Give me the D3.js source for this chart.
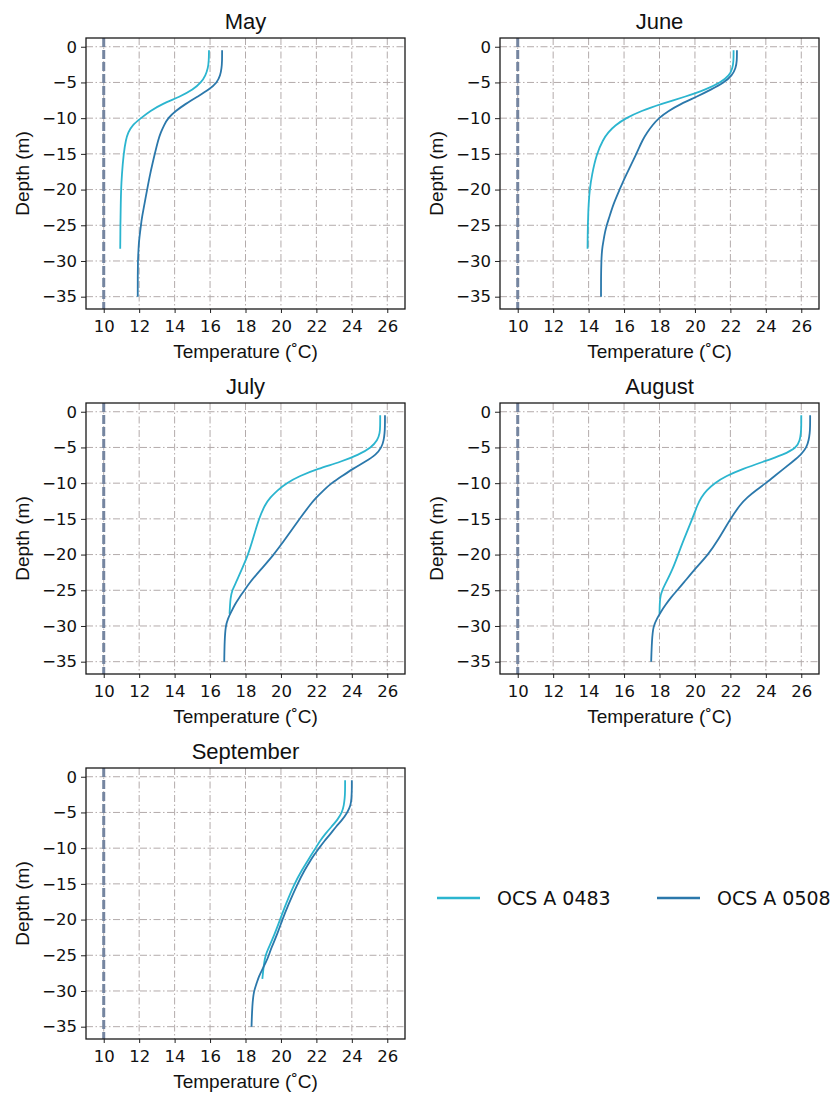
<!DOCTYPE html>
<html>
<head>
<meta charset="utf-8">
<script src="https://cdn.jsdelivr.net/npm/d3@7"></script>
<style>
  html, body { margin: 0; padding: 0; background: #fff; }
  svg { display: block; }
</style>
</head>
<body>
<div id="chart"></div>
<script>
// ---------------- DATA ----------------
const months = ["May", "June", "July", "August", "September"];
const seriesNames = ["OCS A 0483", "OCS A 0508"];
const xTicks = [10, 12, 14, 16, 18, 20, 22, 24, 26];
const yTicks = [0, -5, -10, -15, -20, -25, -30, -35];
const referenceTemp = 10;

// depths (m) at which each station's profile is sampled
const depthsA = [-0.5, -2, -3, -4, -5, -6, -7, -8, -9, -10, -11, -12, -13, -15, -18, -20, -22, -24, -25, -26, -28.3];
const depthsB = [-0.5, -2, -3, -4, -5, -6, -7, -8, -9, -10, -11, -12, -13, -15, -18, -20, -22, -24, -25, -26, -27, -28, -29, -30, -32, -35];

// OCS A 0483 temperatures (°C)
const mayA  = [15.94, 15.93, 15.88, 15.75, 15.5, 15.05, 14.3, 13.3, 12.62, 12.1, 11.6, 11.38, 11.25, 11.12, 11.02, 10.98, 10.96, 10.95, 10.94, 10.94, 10.93];
const junA  = [22.18, 22.18, 22.12, 21.95, 21.45, 20.6, 19.45, 18.1, 16.95, 16.1, 15.5, 15.1, 14.82, 14.45, 14.18, 14.06, 14.0, 13.97, 13.96, 13.95, 13.94];
const julA  = [25.6, 25.6, 25.58, 25.45, 25.1, 24.4, 23.4, 22.05, 21.05, 20.3, 19.8, 19.4, 19.1, 18.75, 18.4, 18.15, 17.8, 17.45, 17.25, 17.15, 17.1];
const augA  = [26.0, 26.0, 25.98, 25.92, 25.75, 25.0, 23.85, 22.7, 21.75, 21.1, 20.65, 20.35, 20.15, 19.85, 19.35, 19.05, 18.75, 18.35, 18.15, 18.02, 18.0];
const sepA  = [23.62, 23.62, 23.6, 23.55, 23.45, 23.2, 22.85, 22.5, 22.2, 21.95, 21.7, 21.45, 21.2, 20.75, 20.25, 19.95, 19.65, 19.3, 19.13, 19.05, 18.95];

// OCS A 0508 temperatures (°C)
const mayB  = [16.68, 16.68, 16.65, 16.58, 16.4, 15.95, 15.28, 14.62, 14.05, 13.62, 13.4, 13.22, 13.08, 12.88, 12.6, 12.45, 12.3, 12.15, 12.1, 12.05, 12.0, 11.97, 11.95, 11.93, 11.92, 11.92];
const junB  = [22.37, 22.37, 22.3, 22.1, 21.65, 20.9, 20.1, 19.2, 18.5, 17.95, 17.6, 17.3, 17.05, 16.7, 16.1, 15.75, 15.4, 15.15, 15.02, 14.92, 14.85, 14.78, 14.74, 14.72, 14.7, 14.7];
const julB  = [25.87, 25.87, 25.85, 25.8, 25.68, 25.38, 24.75, 24.05, 23.45, 22.85, 22.4, 22.0, 21.65, 21.05, 20.2, 19.6, 18.9, 18.2, 17.95, 17.65, 17.4, 17.2, 17.0, 16.88, 16.82, 16.8];
const augB  = [26.5, 26.5, 26.48, 26.42, 26.3, 26.0, 25.5, 25.0, 24.5, 24.0, 23.45, 22.95, 22.55, 22.0, 21.3, 20.75, 20.0, 19.35, 19.0, 18.65, 18.35, 18.08, 17.85, 17.65, 17.57, 17.53];
const sepB  = [24.0, 24.0, 23.98, 23.94, 23.75, 23.47, 23.1, 22.8, 22.45, 22.15, 21.85, 21.6, 21.35, 20.93, 20.4, 20.08, 19.8, 19.45, 19.32, 19.15, 18.94, 18.75, 18.62, 18.47, 18.38, 18.34];

const tempsA = [mayA, junA, julA, augA, sepA];
const tempsB = [mayB, junB, julB, augB, sepB];

// ---------------- LAYOUT / STYLE ----------------
const W = 839, H = 1095;
const colLeft = [86, 500];
const rowTop = [38, 403, 768];
const pw = 319, ph = 271;
const colors = ["#2bb5cf", "#2b78ab"];

const svg = d3.select("#chart").append("svg")
  .attr("width", W).attr("height", H)
  .attr("viewBox", `0 0 ${W} ${H}`);
svg.append("rect").attr("width", W).attr("height", H).attr("fill", "#fff");

const x = d3.scaleLinear().domain([9, 27]).range([0, pw]);
const y = d3.scaleLinear().domain([-36.725, 1.225]).range([ph, 0]);

const tickFont = "'DejaVu Sans', sans-serif";
const labelFont = "'Liberation Sans', Arial, Helvetica, sans-serif";

months.forEach((m, i) => {
  const col = i % 2, row = Math.floor(i / 2);
  const g = svg.append("g").attr("transform", `translate(${colLeft[col]},${rowTop[row]})`);

  // grid
  const grid = g.append("g");
  grid.selectAll("line.vx").data(xTicks).join("line")
    .attr("x1", d => x(d)).attr("x2", d => x(d))
    .attr("y1", 0).attr("y2", ph)
    .attr("stroke", "#b3abab").attr("stroke-width", 1)
    .attr("stroke-dasharray", "7,2.5,1.5,2.5");
  grid.selectAll("line.hy").data(yTicks).join("line")
    .attr("x1", 0).attr("x2", pw)
    .attr("y1", d => y(d)).attr("y2", d => y(d))
    .attr("stroke", "#b3abab").attr("stroke-width", 1)
    .attr("stroke-dasharray", "7,2.5,1.5,2.5");

  // reference dashed line
  g.append("line")
    .attr("x1", x(referenceTemp)).attr("x2", x(referenceTemp))
    .attr("y1", 0).attr("y2", ph)
    .attr("stroke", "#7585a0").attr("stroke-width", 3)
    .attr("stroke-dasharray", "9,3");

  // profiles
  const line = d3.line().x(d => x(d[0])).y(d => y(d[1])).curve(d3.curveBasis);
  const dataA = tempsA[i].map((t, k) => [t, depthsA[k]]);
  const dataB = tempsB[i].map((t, k) => [t, depthsB[k]]);
  [dataA, dataB].forEach((dd, s) => {
    g.append("path").datum(dd)
      .attr("d", line)
      .attr("fill", "none")
      .attr("stroke", colors[s])
      .attr("stroke-width", 1.8);
  });

  // axes
  const xAxis = g.append("g").attr("transform", `translate(0,${ph})`)
    .call(d3.axisBottom(x).tickValues(xTicks).tickSize(4).tickPadding(7).tickFormat(d3.format("d")));
  const yAxis = g.append("g")
    .call(d3.axisLeft(y).tickValues(yTicks).tickSize(5).tickPadding(4).tickFormat(d3.format("d")));
  [xAxis, yAxis].forEach(a => {
    a.select(".domain").remove();
    a.selectAll(".tick line").attr("stroke", "#222").attr("stroke-width", 1);
    a.selectAll(".tick text").attr("font-family", tickFont).attr("font-size", 16.5).attr("fill", "#111");
  });

  // frame
  g.append("rect").attr("x", 0).attr("y", 0).attr("width", pw).attr("height", ph)
    .attr("fill", "none").attr("stroke", "#1a1a1a").attr("stroke-width", 1.3);

  // title
  g.append("text").attr("x", pw / 2).attr("y", -9)
    .attr("text-anchor", "middle").attr("font-family", labelFont)
    .attr("font-size", 22).attr("fill", "#111").text(m);

  // x label
  g.append("text").attr("x", pw / 2).attr("y", ph + 49)
    .attr("text-anchor", "middle").attr("font-family", labelFont)
    .attr("font-size", 19).attr("fill", "#111").text("Temperature (˚C)");

  // y label
  g.append("text")
    .attr("transform", `translate(-57,${ph / 2}) rotate(-90)`)
    .attr("text-anchor", "middle").attr("font-family", labelFont)
    .attr("font-size", 19).attr("fill", "#111").text("Depth (m)");
});

// legend
const legendY = 898;
const legendX = [437, 657];
seriesNames.forEach((name, s) => {
  const lg = svg.append("g").attr("transform", `translate(${legendX[s]},${legendY})`);
  lg.append("line").attr("x1", 0).attr("x2", 43).attr("y1", 0).attr("y2", 0)
    .attr("stroke", colors[s]).attr("stroke-width", 2.5);
  lg.append("text").attr("x", 60).attr("y", 0).attr("dy", "0.35em")
    .attr("font-family", tickFont).attr("font-size", 19).attr("fill", "#111").text(name);
});
</script>
</body>
</html>
